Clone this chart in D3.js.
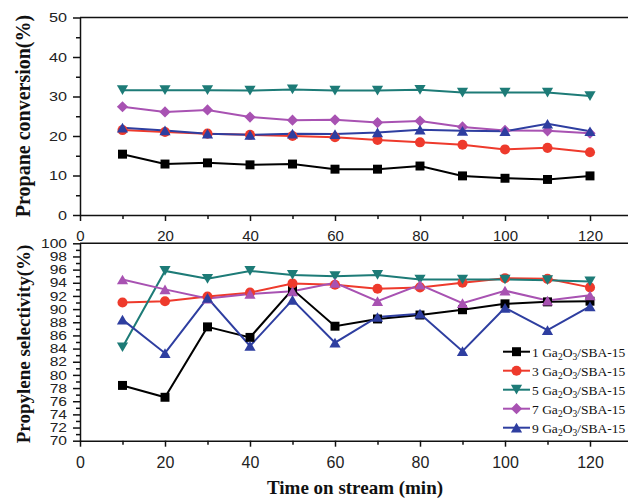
<!DOCTYPE html>
<html>
<head>
<meta charset="utf-8">
<script src="https://cdn.jsdelivr.net/npm/d3@7"></script>
<style>
  body { margin: 0; background: #fff; }
  .tick text { font-family: "Liberation Sans", Arial, sans-serif; fill: #222; }
  .axis path, .axis line { stroke: #111; stroke-width: 1.5; }
  .ttl { font-family: "Liberation Serif", "Times New Roman", serif; font-weight: bold; fill: #111; }
  .leg { font-family: "Liberation Serif", "Times New Roman", serif; fill: #111; }
</style>
</head>
<body>
<div class="chart"></div>
<script>
// time on stream (min)
const times = [10, 20, 30, 40, 50, 60, 70, 80, 90, 100, 110, 120];

const names = ["1", "3", "5", "7", "9"];
const colors = ["#000000", "#ee3a2c", "#1d7b77", "#a852b2", "#2e3ea0"];

// propane conversion (%)
const conv1 = [15.4, 12.9, 13.2, 12.7, 12.9, 11.6, 11.6, 12.4, 9.9, 9.3, 9.0, 9.9];
const conv3 = [21.5, 21.0, 20.6, 20.3, 20.0, 19.7, 19.0, 18.4, 17.8, 16.6, 17.0, 15.9];
const conv5 = [31.6, 31.6, 31.6, 31.5, 31.8, 31.5, 31.5, 31.7, 31.0, 31.0, 31.0, 30.1];
const conv7 = [27.4, 26.1, 26.6, 24.8, 24.0, 24.1, 23.4, 23.8, 22.3, 21.4, 21.3, 20.7];
const conv9 = [22.1, 21.4, 20.6, 20.3, 20.6, 20.5, 20.9, 21.6, 21.3, 21.2, 23.1, 21.2];

// propylene selectivity (%)
const sel1 = [78.4, 76.6, 87.3, 85.7, 93.0, 87.4, 88.5, 89.1, 89.9, 90.8, 91.1, 91.2];
const sel3 = [91.0, 91.2, 91.9, 92.5, 93.9, 93.7, 93.1, 93.3, 94.0, 94.7, 94.6, 93.3];
const sel5 = [84.2, 95.8, 94.6, 95.8, 95.2, 95.0, 95.2, 94.5, 94.5, 94.5, 94.4, 94.2];
const sel7 = [94.5, 93.0, 91.6, 92.3, 92.7, 94.0, 91.2, 93.7, 90.9, 92.8, 91.3, 92.1];
const sel9 = [88.4, 83.3, 91.7, 84.4, 91.4, 84.9, 88.8, 89.3, 83.6, 90.2, 86.8, 90.4];

const convData = [conv1, conv3, conv5, conv7, conv9];
const selData = [sel1, sel3, sel5, sel7, sel9];

const W = 628, H = 500;
const svg = d3.select(".chart").append("svg").attr("width", W).attr("height", H);

// custom marker shapes, size = half width
const shapes = {
  square: { draw(c, r) { r *= 0.8; c.rect(-r, -r, 2 * r, 2 * r); } },
  circle: { draw(c, r) { r *= 0.9; c.moveTo(r, 0); c.arc(0, 0, r, 0, 2 * Math.PI); } },
  up: { draw(c, r) { const h = r * 1.732; c.moveTo(0, -h / 2); c.lineTo(r, h / 2); c.lineTo(-r, h / 2); c.closePath(); } },
  down: { draw(c, r) { const h = r * 1.732; c.moveTo(0, h / 2); c.lineTo(r, -h / 2); c.lineTo(-r, -h / 2); c.closePath(); } },
  diamond: { draw(c, r) { c.moveTo(0, -r); c.lineTo(r, 0); c.lineTo(0, r); c.lineTo(-r, 0); c.closePath(); } }
};
const topShapes = ["square", "circle", "down", "diamond", "up"];
const botShapes = ["square", "circle", "down", "up", "up"];
const sym = (s) => d3.symbol().type(shapes[s]).size(5.6)();

const x = d3.scaleLinear().domain([0, 130]).range([80, 632.5]);
const yTop = d3.scaleLinear().domain([0, 50]).range([215, 17.5]);
const yBot = d3.scaleLinear().domain([70, 100]).range([440.7, 243.3]);

function panel(y, yTicks, yMinor, data, shapeSet, xFont, xPad, yFont) {
  const [y0, y1] = y.range();
  // frame top
  svg.append("line").attr("x1", 80).attr("x2", 640).attr("y1", y1).attr("y2", y1)
    .attr("stroke", "#111").attr("stroke-width", 1.5);

  const gx = svg.append("g").attr("class", "axis").attr("transform", `translate(0,${y0})`);
  gx.call(d3.axisBottom(x).tickValues([0, 20, 40, 60, 80, 100, 120]).tickSize(6).tickPadding(xPad).tickSizeOuter(0));
  gx.append("g").call(d3.axisBottom(x).tickValues([10, 30, 50, 70, 90, 110, 130]).tickSize(4).tickFormat("").tickSizeOuter(0))
    .select(".domain").remove();
  gx.selectAll("text").style("font-size", xFont + "px");

  const gy = svg.append("g").attr("class", "axis").attr("transform", "translate(80,0)");
  gy.call(d3.axisLeft(y).tickValues(yTicks).tickSize(7).tickSizeOuter(0));
  gy.append("g").call(d3.axisLeft(y).tickValues(yMinor).tickSize(4).tickFormat("").tickSizeOuter(0))
    .select(".domain").remove();
  // labels look horizontally stretched in the original
  gy.selectAll("text").style("font-size", yFont + "px")
    .attr("x", -13 / 1.2).attr("transform", "scale(1.2,1)");

  const line = d3.line().x((d, i) => x(times[i])).y(d => y(d));
  data.forEach((vals, k) => {
    svg.append("path").datum(vals).attr("d", line)
      .attr("fill", "none").attr("stroke", colors[k]).attr("stroke-width", 2);
  });
  data.forEach((vals, k) => {
    svg.append("g").selectAll("path").data(vals).join("path")
      .attr("transform", (d, i) => `translate(${x(times[i])},${y(d)})`)
      .attr("d", sym(shapeSet[k]))
      .attr("fill", colors[k]);
  });
}

panel(yTop, d3.range(0, 51, 10), d3.range(5, 50, 10), convData, topShapes, 15, 9, 13.5);
panel(yBot, d3.range(70, 101, 2), d3.range(71, 100, 2), selData, botShapes, 16, 10, 13);

// axis titles
svg.append("text").attr("class", "ttl").attr("transform", "translate(30,116) rotate(-90)")
  .attr("text-anchor", "middle").style("font-size", "20px").text("Propane conversion(%)");
svg.append("text").attr("class", "ttl").attr("transform", "translate(30,344) rotate(-90)")
  .attr("text-anchor", "middle").style("font-size", "19px").text("Propylene selectivity(%)");
svg.append("text").attr("class", "ttl").attr("x", 355).attr("y", 494)
  .attr("text-anchor", "middle").style("font-size", "19px").text("Time on stream (min)");

// legend
const leg = svg.append("g");
names.forEach((n, k) => {
  const ly = 351.7 + k * 19;
  leg.append("line").attr("x1", 503).attr("x2", 530).attr("y1", ly).attr("y2", ly)
    .attr("stroke", colors[k]).attr("stroke-width", 2);
  leg.append("path").attr("transform", `translate(516.5,${ly})`)
    .attr("d", sym(topShapes[k])).attr("fill", colors[k]);
  const t = leg.append("text").attr("class", "leg").attr("x", 532).attr("y", ly + 5).style("font-size", "13.5px");
  t.append("tspan").text(n + " Ga");
  t.append("tspan").attr("dy", 3).style("font-size", "9.5px").text("2");
  t.append("tspan").attr("dy", -3).text("O");
  t.append("tspan").attr("dy", 3).style("font-size", "9.5px").text("3");
  t.append("tspan").attr("dy", -3).text("/SBA-15");
});
</script>
</body>
</html>
